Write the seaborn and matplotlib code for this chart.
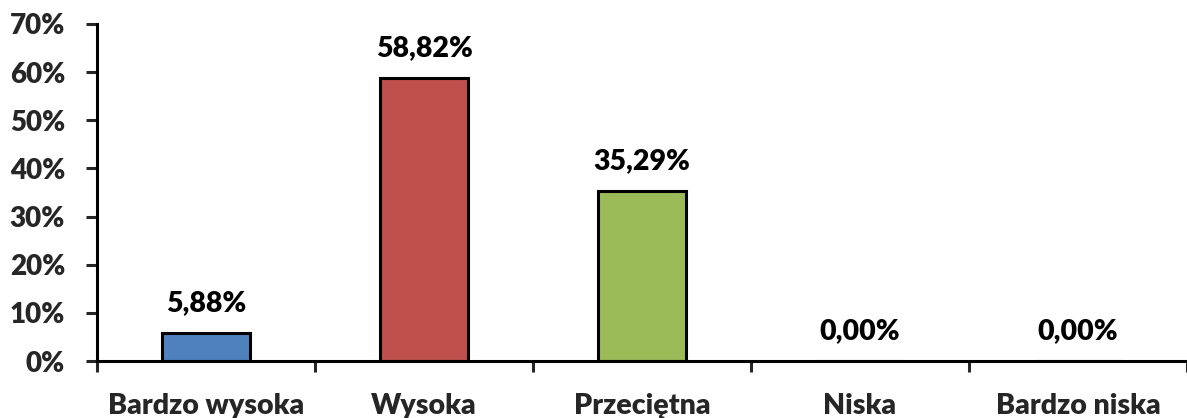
import matplotlib
matplotlib.use("Agg")
import matplotlib.pyplot as plt
import seaborn as sns
import pandas as pd
import numpy as np
from matplotlib.ticker import FixedLocator, FuncFormatter

categories = ["Bardzo wysoka", "Wysoka", "Przeciętna", "Niska", "Bardzo niska"]
values = [5.88, 58.82, 35.29, 0.0, 0.0]
labels = ["5,88%", "58,82%", "35,29%", "0,00%", "0,00%"]
colors = ["#4F81BD", "#C0504D", "#9BBB59", "#8064A2", "#4BACC6"]
yticks = [0, 10, 20, 30, 40, 50, 60, 70]

sns.set_style("white")
plt.rcParams["font.family"] = ["Lato", "DejaVu Sans"]
plt.rcParams["font.weight"] = "bold"

df = pd.DataFrame({"cat": categories, "val": values})

fig = plt.figure(figsize=(11.87, 4.18), dpi=100)
ax = fig.add_axes([97/1187, 1-361/418, 1-97/1187, (361-24)/418])

sns.barplot(data=df, x="cat", y="val", hue="cat", palette=colors, legend=False,
            width=0.4, edgecolor="black", linewidth=2.2, ax=ax, saturation=1)

ax.set_xlim(-0.5, 4.5)
ax.set_ylim(0, 70)
ax.set_yticks(yticks)
ax.yaxis.set_major_formatter(FuncFormatter(lambda v, p: f"{int(v)}%"))
ax.set_xlabel("")
ax.set_ylabel("")

for i, (v, lab) in enumerate(zip(values, labels)):
    ax.annotate(lab, (i, v), xytext=(0, 12), textcoords="offset points",
                ha="center", va="bottom", fontsize=20.5, fontweight="heavy", color="black")

for s in ["top", "right"]:
    ax.spines[s].set_visible(False)
for s in ["left", "bottom"]:
    ax.spines[s].set_linewidth(2.2)
    ax.spines[s].set_color("black")

ax.tick_params(axis="y", which="major", direction="out", length=8, width=2.2,
               labelsize=20, left=True, pad=15)
ax.tick_params(axis="x", which="major", length=0, labelsize=20.5, pad=23)
ax.xaxis.set_minor_locator(FixedLocator(np.arange(-0.5, 4.6, 1.0)))
ax.tick_params(axis="x", which="minor", direction="out", length=8, width=2.2, bottom=True)
for t in ax.get_xticklabels() + ax.get_yticklabels():
    t.set_fontweight("heavy")

fig.savefig("out.png", dpi=100)
